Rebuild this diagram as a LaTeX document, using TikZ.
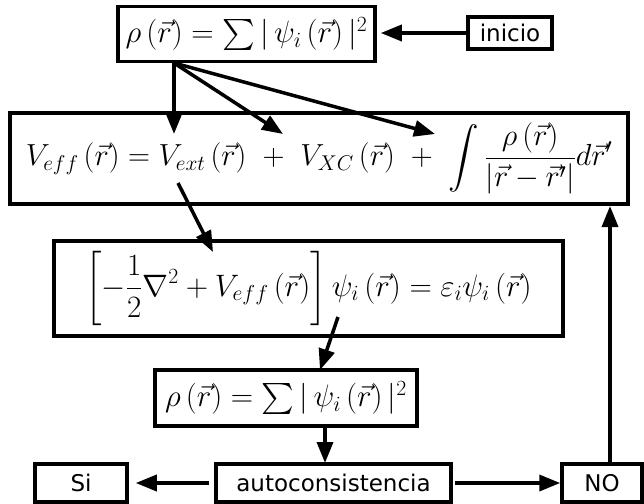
\documentclass[tikz,border=0pt]{standalone}
\usepackage{fix-cm}
\usepackage{amsmath,amssymb}
\usepackage{fontspec}
\setsansfont{DejaVu Sans}
\usetikzlibrary{arrows.meta}

\begin{document}
\begin{tikzpicture}[x=1pt,y=-1pt,>={Triangle[length=21pt,width=16pt]},line width=3.5pt,
    eqbox/.style={draw,line width=3.5pt,inner sep=0pt,font=\fontsize{31}{37}\selectfont},
    txtbox/.style={draw,line width=3.5pt,inner sep=0pt,font=\sffamily\fontsize{23}{28}\selectfont}]
  \useasboundingbox (0,0) rectangle (644,503);

  \node[eqbox,minimum width=257pt,minimum height=55pt] (rhoA) at (246.5,34)
    {$\rho\left(\vec{r}\right)=\sum|\,\psi_i\left(\vec{r}\right)|^2$};
  \node[txtbox,minimum width=84pt,minimum height=32pt] (inicio) at (510,33) {inicio};
  \node[eqbox,minimum width=618pt,minimum height=91pt,font=\fontsize{30.5}{37}\selectfont] (veff) at (319,158.5)
    {$\displaystyle V_{eff}\left(\vec{r}\right)=V_{ext}\left(\vec{r}\right)\ +\ V_{XC}\left(\vec{r}\right)\ +\ \int\frac{\rho\left(\vec{r}\right)}{\left|\vec{r}-\vec{r}'\right|}d\vec{r}'$};
  \node[eqbox,minimum width=509pt,minimum height=95pt] (ks) at (308.5,288.5)
    {$\displaystyle\left[-\frac{1}{2}\nabla^2+V_{eff}\left(\vec{r}\right)\right]\psi_i\left(\vec{r}\right)=\varepsilon_i\psi_i\left(\vec{r}\right)$};
  \node[eqbox,minimum width=262pt,minimum height=56pt] (rhoB) at (286,398)
    {$\rho\left(\vec{r}\right)=\sum|\,\psi_i\left(\vec{r}\right)|^2$};
  \node[txtbox,minimum width=235pt,minimum height=38pt] (auto) at (333.5,483) {autoconsistencia};
  \node[txtbox,minimum width=92pt,minimum height=38pt] (si) at (81,483) {Si};
  \node[txtbox,minimum width=80pt,minimum height=38pt] (no) at (602,483) {NO};

  % fan from the density to the three terms
  \coordinate (fan) at (174,63);
  \coordinate (vext) at (174,134);
  \coordinate (vxc) at (283,134);
  \coordinate (vh) at (435,134);
  \coordinate (vs) at (178,183);
  \coordinate (ke) at (213,252);
  \coordinate (ps) at (338,317);
  \coordinate (rt) at (320,370);
  \coordinate (rb) at (325,428);
  \coordinate (at) at (325,463);
  \coordinate (nt) at (610,464);
  \coordinate (vb) at (610,206);

  \draw[->,shorten >=4pt] (inicio) -- (rhoA.east |- inicio);
  \draw[->] (fan) -- (vext);
  \draw[->] (fan) -- (vxc);
  \draw[->] (fan) -- (vh);
  \draw[->] (vs) -- (ke);
  \draw[->] (ps) -- (rt);
  \draw[->] (rb) -- (at);
  \draw[->,shorten <=5pt,shorten >=7pt] (auto) -- (si);
  \draw[->,shorten <=2pt] (auto) -- (no);
  \draw[->] (nt) -- (vb);
\end{tikzpicture}
\end{document}
